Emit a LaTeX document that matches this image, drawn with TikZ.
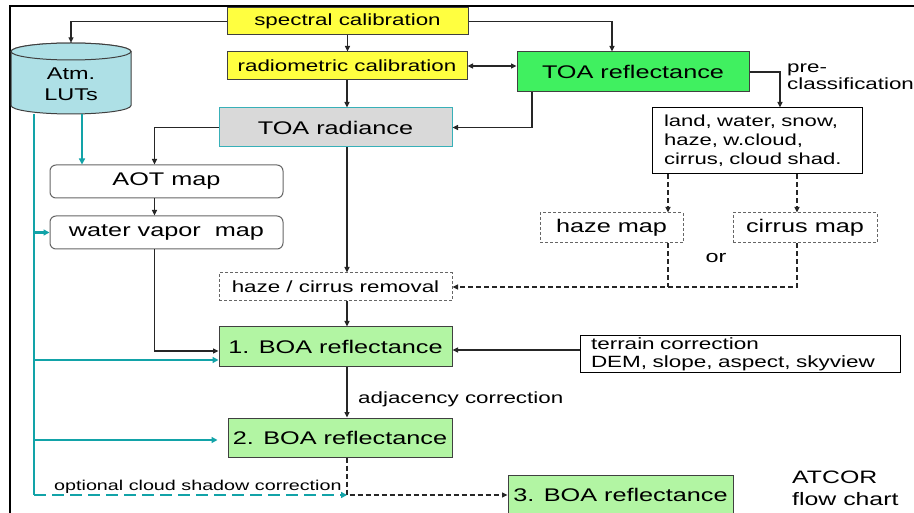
\documentclass[tikz,border=0pt]{standalone}
\usepackage{fontspec}
\setmainfont{Liberation Sans}[FakeStretch=1.38]
\usetikzlibrary{arrows.meta,calc}
\definecolor{yel}{HTML}{FFFF40}
\definecolor{grn}{HTML}{40F060}
\definecolor{lgrn}{HTML}{B2F5A3}
\definecolor{cyl}{HTML}{AEE0E6}
\definecolor{gry}{HTML}{D9D9D9}
\definecolor{tealb}{HTML}{38B0B8}
\definecolor{tealine}{HTML}{12A3A8}
\newcommand\fsm{\fontsize{16.2}{19}\selectfont}
\newcommand\flg{\fontsize{18.3}{21}\selectfont}
\begin{document}
\begin{tikzpicture}[x=1pt,y=-1pt,
  box/.style={draw=black!75, line width=1pt, inner sep=0pt, font=\fsm},
  dbox/.style={draw=black!60, line width=1pt, inner sep=0pt, dash pattern=on 3pt off 2pt, fill=white},
  arr/.style={-{Triangle[length=5.5pt,width=5pt]}, line width=1.6pt, draw=black!85},
  dblarr/.style={{Triangle[length=5.5pt,width=5pt]}-{Triangle[length=5.5pt,width=5pt]}, line width=1.6pt, draw=black!85},
  darr/.style={arr, dash pattern=on 5pt off 3pt},
  dline/.style={line width=1.6pt, draw=black!85, dash pattern=on 5pt off 3pt},
  tline/.style={line width=2.8pt, draw=tealine},
  tarr/.style={tline, -{Triangle[length=6pt,width=6pt]}},
]
\useasboundingbox (0,0) rectangle (914,513);
\fill[white] (0,0) rectangle (914,513);
% frame
\draw[line width=2pt] (10,513) -- (10,6) -- (914,6);

% nodes
\node[box, fill=yel, minimum width=241, minimum height=27] (spec) at (347.5,21.5) {spectral calibration};
\node[box, fill=yel, minimum width=240, minimum height=28] (radio) at (347,66) {radiometric calibration};
\node[box, fill=grn, minimum width=232, minimum height=40, font=\flg] (trefl) at (633,72) {TOA reflectance};
\node[box, draw=tealb, fill=gry, minimum width=233, minimum height=39, font=\flg] (trad) at (335.5,127.5) {TOA radiance};

% cylinder
\node[minimum width=120, minimum height=71, inner sep=0pt] (luts) at (71,78.5) {};
\draw[draw=black!75, line width=1pt, fill=cyl] (11,51.5) -- (11,105.5)
  arc[start angle=180, end angle=0, x radius=60, y radius=8.5] -- (131,51.5)
  arc[start angle=0, end angle=-180, x radius=60, y radius=8.5] -- cycle;
\draw[draw=black!75, line width=1pt, fill=cyl] (71,51.5) ellipse[x radius=60, y radius=8.5];
\node[font=\fontsize{17}{21}\selectfont, align=center, inner sep=0pt] (lutstext) at (71,84) {Atm.\\LUTs};

\node[box, draw=black!60, rounded corners=6pt, minimum width=233, minimum height=33, font=\flg] (aot) at (166.5,181.5) {AOT map};
\node[box, draw=black!60, rounded corners=6pt, minimum width=233, minimum height=33, font=\flg] (wv) at (166.5,232.5) {water vapor\ \ map};

\node[draw=black, line width=1pt, fill=white, text width=186, inner xsep=12pt, inner ysep=0pt, minimum height=66, align=left, font=\fontsize{16}{19}\selectfont] (cls) at (757,141) {land, water, snow,\\haze, w.cloud,\\cirrus, cloud shad.};

\node[dbox, minimum width=143, minimum height=30, font=\flg] (hz) at (611.5,228) {haze map};
\node[dbox, minimum width=144, minimum height=30, font=\flg] (ci) at (805,228) {cirrus map};
\node[dbox, minimum width=233, minimum height=28, font=\fsm] (rem) at (335.5,287) {haze / cirrus removal};

\node[box, fill=lgrn, minimum width=233, minimum height=40, font=\flg] (b1) at (335.5,347) {1. BOA reflectance};
\node[box, fill=lgrn, minimum width=224, minimum height=39, font=\flg] (b2) at (340,437.5) {2. BOA reflectance};
\node[box, fill=lgrn, minimum width=225, minimum height=40, font=\flg] (b3) at (620.5,495) {3. BOA reflectance};

\node[draw=black, line width=1pt, text width=298, inner xsep=11pt, inner ysep=0pt, minimum height=37, align=left, font=\fontsize{16.3}{18}\selectfont] (ter) at (740,354.5) {terrain correction\\DEM, slope, aspect, skyview};

% labels
\node[font=\fontsize{16.2}{16}\selectfont, anchor=north west, inner sep=0pt, align=left] (pre) at (787,60.8) {\strut pre-\\classification};
\node[font=\fsm, anchor=base west, inner sep=0pt] (adj) at (358,403) {adjacency correction};
\node[font=\fontsize{14.3}{17}\selectfont, anchor=base west, inner sep=0pt] (opt) at (54,490) {optional cloud shadow correction};
\node[font=\fontsize{17}{20}\selectfont, anchor=base, inner sep=0pt] (or) at (716,263) {or};
\node[font=\fontsize{18}{22}\selectfont, anchor=north west, inner sep=0pt, align=left] (atc) at (792,467.6) {\strut ATCOR\\flow chart};

% black connectors
\draw[arr] (spec.west) -| (luts.north);
\draw[arr] (spec.south) -- (spec.south |- radio.north);
\coordinate (s1) at ($(trefl.north)+(-21,0)$);
\draw[arr] (spec.east) -| (s1);
\draw[dblarr] (radio.east) -- (radio.east -| trefl.west);
\draw[arr] (radio.south) -- (radio.south |- trad.north);
\coordinate (r1) at ($(trefl.south)+(-101,0)$);
\draw[arr] (r1) |- (trad.east);
\coordinate (c0) at ($(cls.north)+(23,0)$);
\draw[arr] (trefl.east) -| (c0);
\coordinate (a0) at ($(aot.north)+(-12,0)$);
\draw[arr] (trad.west) -| (a0);
\coordinate (a1) at ($(aot.south)+(-12,0)$);
\draw[arr] (a1) -- (a1 |- wv.north);
\coordinate (w1) at ($(wv.south)+(-12,0)$);
\coordinate (b1w) at ($(b1.west)+(0,4)$);
\draw[arr] (w1) |- (b1w);
\coordinate (t1) at ($(trad.south)+(11.5,0)$);
\draw[arr] (t1) -- (t1 |- rem.north);
\coordinate (m1) at ($(rem.south)+(11.5,0)$);
\draw[arr] (m1) -- (m1 |- b1.north);
\coordinate (o1) at ($(b1.south)+(11.5,0)$);
\draw[arr] (o1) -- (o1 |- b2.north);
\coordinate (q1) at ($(b2.south)+(7,0)$);
\coordinate (j) at (q1 |- b3.west);
\draw[darr] (q1) |- (b3.west);
\coordinate (tw) at ($(ter.west)+(0,-4.5)$);
\draw[arr] (tw) -- (tw -| b1.east);

% dashed map connectors
\coordinate (k1) at ($(cls.south)+(-89,0)$);
\draw[darr] (k1) -- (k1 |- hz.north);
\coordinate (k2) at ($(cls.south)+(40,0)$);
\draw[darr] (k2) -- (k2 |- ci.north);
\coordinate (h1) at ($(hz.south)+(56.5,0)$);
\draw[dline] (h1) -- (h1 |- rem.east);
\coordinate (h2) at ($(ci.south)+(-8,0)$);
\draw[darr] (h2) |- (rem.east);

% teal connectors
\coordinate (tb) at ($(luts.south)+(-37,0)$);
\coordinate (tend) at (tb |- j);
\draw[tline] (tb) -- (tend);
\coordinate (tb2) at ($(luts.south)+(11,0)$);
\draw[tarr] (tb2) -- (tb2 |- aot.north);
\draw[tarr] (tb |- wv.west) -- (wv.west);
\coordinate (b1t) at ($(b1.west)+(0,13)$);
\draw[tarr] (tb |- b1t) -- (b1t);
\coordinate (b2t) at ($(b2.west)+(-10,2.5)$);
\draw[tarr] (tb |- b2t) -- (b2t);
\draw[tarr, dash pattern=on 12pt off 6pt] (tend) -- (j);
\end{tikzpicture}
\end{document}
